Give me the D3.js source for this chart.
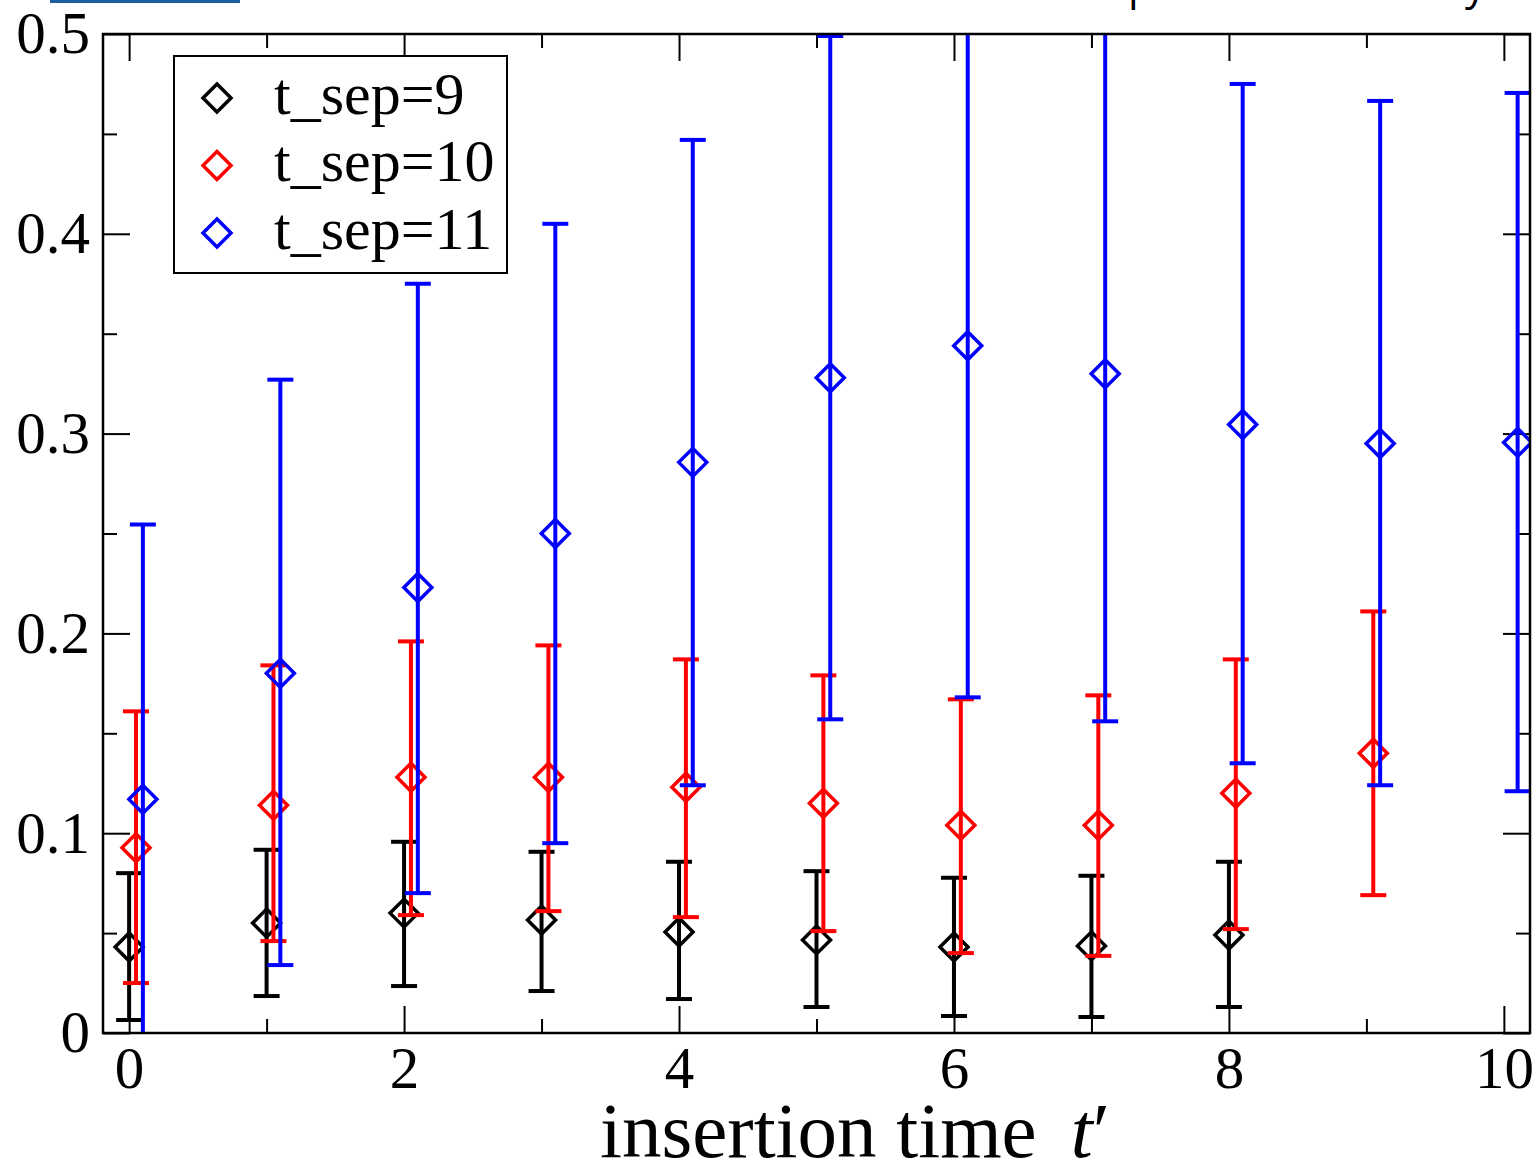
<!DOCTYPE html>
<html>
<head>
<meta charset="utf-8">
<script src="https://cdn.jsdelivr.net/npm/d3@7"></script>
<style>
  body { margin: 0; background: #fff; }
  svg { display: block; }
</style>
</head>
<body>
<svg id="chart" width="1536" height="1164"></svg>
<script>
// insertion times per series
const tBlack = [0, 1, 2, 3, 4, 5, 6, 7, 8]
const tRed = [0, 1, 2, 3, 4, 5, 6, 7, 8, 9]
const tBlue = [0, 1, 2, 3, 4, 5, 6, 7, 8, 9, 10]

// t_sep=9
const blackVal = [0.043, 0.055, 0.060, 0.0566, 0.0506, 0.0466, 0.043, 0.0436, 0.049]
const blackHi = [0.080, 0.0917, 0.0957, 0.0907, 0.0857, 0.081, 0.0777, 0.0787, 0.0857]
const blackLo = [0.0065, 0.0185, 0.0235, 0.021, 0.017, 0.013, 0.0085, 0.008, 0.013]

// t_sep=10
const redVal = [0.0927, 0.114, 0.128, 0.128, 0.123, 0.115, 0.104, 0.104, 0.120, 0.140]
const redHi = [0.161, 0.184, 0.196, 0.194, 0.187, 0.179, 0.167, 0.169, 0.187, 0.211]
const redLo = [0.025, 0.046, 0.059, 0.061, 0.058, 0.051, 0.040, 0.0386, 0.052, 0.069]

// t_sep=11
const blueVal = [0.117, 0.180, 0.223, 0.250, 0.2856, 0.328, 0.344, 0.330, 0.3046, 0.295, 0.2956]
const blueHi = [0.2545, 0.327, 0.375, 0.405, 0.447, 0.499, 0.520, 0.504, 0.475, 0.4665, 0.4705]
const blueLo = [-0.0205, 0.034, 0.070, 0.095, 0.124, 0.157, 0.168, 0.156, 0.135, 0.124, 0.121]

const seriesNames = ['t_sep=9', 't_sep=10', 't_sep=11']
const xMajor = [0, 2, 4, 6, 8, 10]
const xMinor = [1, 3, 5, 7, 9]
const yMajor = [0, 0.1, 0.2, 0.3, 0.4, 0.5]
const yMinor = [0.05, 0.15, 0.25, 0.35, 0.45]

const series = [
  { name: seriesNames[0], color: '#000000', shift: 0, t: tBlack, v: blackVal, hi: blackHi, lo: blackLo },
  { name: seriesNames[1], color: '#ff0000', shift: 0.05, t: tRed, v: redVal, hi: redHi, lo: redLo },
  { name: seriesNames[2], color: '#0000ff', shift: 0.1, t: tBlue, v: blueVal, hi: blueHi, lo: blueLo }
]

const margin = { left: 103, right: 6, top: 34, bottom: 131 }
const width = 1536 - margin.left - margin.right
const height = 1164 - margin.top - margin.bottom
const serif = '"Liberation Serif", "Times New Roman", serif'

let svg = d3.select('#chart')

// cut-off bits of the page above the plot
svg.append('rect')
  .attr('x', 50).attr('y', 0)
  .attr('width', 190).attr('height', 3)
  .attr('fill', '#1f5f9f')
svg.append('text')
  .attr('x', 1128).attr('y', 0)
  .style('font-family', '"Open Sans", sans-serif')
  .style('font-size', '42px')
  .text('p')
svg.append('text')
  .attr('x', 1465).attr('y', 0)
  .style('font-family', '"Open Sans", sans-serif')
  .style('font-size', '42px')
  .text('y')

let g = svg.append('g')
    .attr('transform', `translate(${margin.left},${margin.top})`)

let x = d3.scaleLinear().domain([-0.19, 10.19]).range([0, width])
let y = d3.scaleLinear().domain([0, 0.5]).range([height, 0])

g.append('clipPath')
  .attr('id', 'plot-clip')
  .append('rect')
  .attr('width', width)
  .attr('height', height)

// Axes: inward ticks on all four sides
function styleAxis (sel) {
  sel.select('.domain').remove()
  sel.selectAll('line').attr('stroke', '#000').attr('stroke-width', 2)
  sel.selectAll('text')
    .attr('fill', '#000')
    .style('font-family', serif)
    .style('font-size', '59px')
}

g.append('g')
  .attr('transform', `translate(0,${height})`)
  .call(d3.axisBottom(x).tickValues(xMajor).tickSize(-27).tickPadding(13).tickFormat(d3.format('d')))
  .call(styleAxis)
g.append('g')
  .attr('transform', `translate(0,${height})`)
  .call(d3.axisBottom(x).tickValues(xMinor).tickSize(-14).tickFormat(''))
  .call(styleAxis)
g.append('g')
  .call(d3.axisTop(x).tickValues(xMajor).tickSize(-27).tickFormat(''))
  .call(styleAxis)
g.append('g')
  .call(d3.axisTop(x).tickValues(xMinor).tickSize(-14).tickFormat(''))
  .call(styleAxis)

g.append('g')
  .call(d3.axisLeft(y).tickValues(yMajor).tickSize(-27).tickPadding(13).tickFormat(d => d === 0 ? '0' : d3.format('.1f')(d)))
  .call(styleAxis)
g.append('g')
  .call(d3.axisLeft(y).tickValues(yMinor).tickSize(-14).tickFormat(''))
  .call(styleAxis)
g.append('g')
  .attr('transform', `translate(${width},0)`)
  .call(d3.axisRight(y).tickValues(yMajor).tickSize(-27).tickFormat(''))
  .call(styleAxis)
g.append('g')
  .attr('transform', `translate(${width},0)`)
  .call(d3.axisRight(y).tickValues(yMinor).tickSize(-14).tickFormat(''))
  .call(styleAxis)

// Data: error bars with caps, hollow diamonds
let diamond = d3.symbol().type(d3.symbolDiamond2).size(500)
let capHalf = 13
let plot = g.append('g').attr('clip-path', 'url(#plot-clip)')

series.forEach(s => {
  let rows = s.t.map((t, i) => ({ x: x(t + s.shift), v: y(s.v[i]), hi: y(s.hi[i]), lo: y(s.lo[i]) }))
  let sg = plot.append('g')
      .attr('stroke', s.color)
      .attr('fill', 'none')

  sg.selectAll('.bar').data(rows).join('line')
    .attr('class', 'bar')
    .attr('x1', d => d.x).attr('x2', d => d.x)
    .attr('y1', d => d.hi).attr('y2', d => d.lo)
    .attr('stroke-width', 4)
  sg.selectAll('.cap-hi').data(rows).join('line')
    .attr('class', 'cap-hi')
    .attr('x1', d => d.x - capHalf).attr('x2', d => d.x + capHalf)
    .attr('y1', d => d.hi).attr('y2', d => d.hi)
    .attr('stroke-width', 4)
  sg.selectAll('.cap-lo').data(rows).join('line')
    .attr('class', 'cap-lo')
    .attr('x1', d => d.x - capHalf).attr('x2', d => d.x + capHalf)
    .attr('y1', d => d.lo).attr('y2', d => d.lo)
    .attr('stroke-width', 4)
  sg.selectAll('.pt').data(rows).join('path')
    .attr('class', 'pt')
    .attr('d', diamond)
    .attr('transform', d => `translate(${d.x},${d.v})`)
    .attr('stroke-width', 3.5)
})

// Frame
g.append('rect')
  .attr('width', width)
  .attr('height', height)
  .attr('fill', 'none')
  .attr('stroke', '#000')
  .attr('stroke-width', 2.5)

// Legend
let legend = g.append('g')
    .attr('transform', `translate(${174 - margin.left},${56 - margin.top})`)
legend.append('rect')
  .attr('width', 333)
  .attr('height', 217)
  .attr('fill', '#fff')
  .attr('stroke', '#000')
  .attr('stroke-width', 2)
series.forEach((s, i) => {
  let row = legend.append('g')
      .attr('transform', `translate(0,${42 + i * 67.5})`)
  row.append('path')
    .attr('d', diamond)
    .attr('transform', 'translate(43,0)')
    .attr('fill', 'none')
    .attr('stroke', s.color)
    .attr('stroke-width', 3.5)
  row.append('text')
    .attr('x', 100)
    .attr('dy', '0.26em')
    .style('font-family', serif)
    .style('font-size', '60px')
    .text(s.name)
})

// X axis title
let xTitle = g.append('text')
    .attr('x', 752)
    .attr('y', height + 124)
    .attr('text-anchor', 'middle')
    .style('font-family', serif)
    .style('font-size', '79px')
xTitle.append('tspan').text('insertion time')
xTitle.append('tspan')
  .attr('dx', 34)
  .style('font-style', 'italic')
  .text('t')
xTitle.append('tspan').text('′')
</script>
</body>
</html>
